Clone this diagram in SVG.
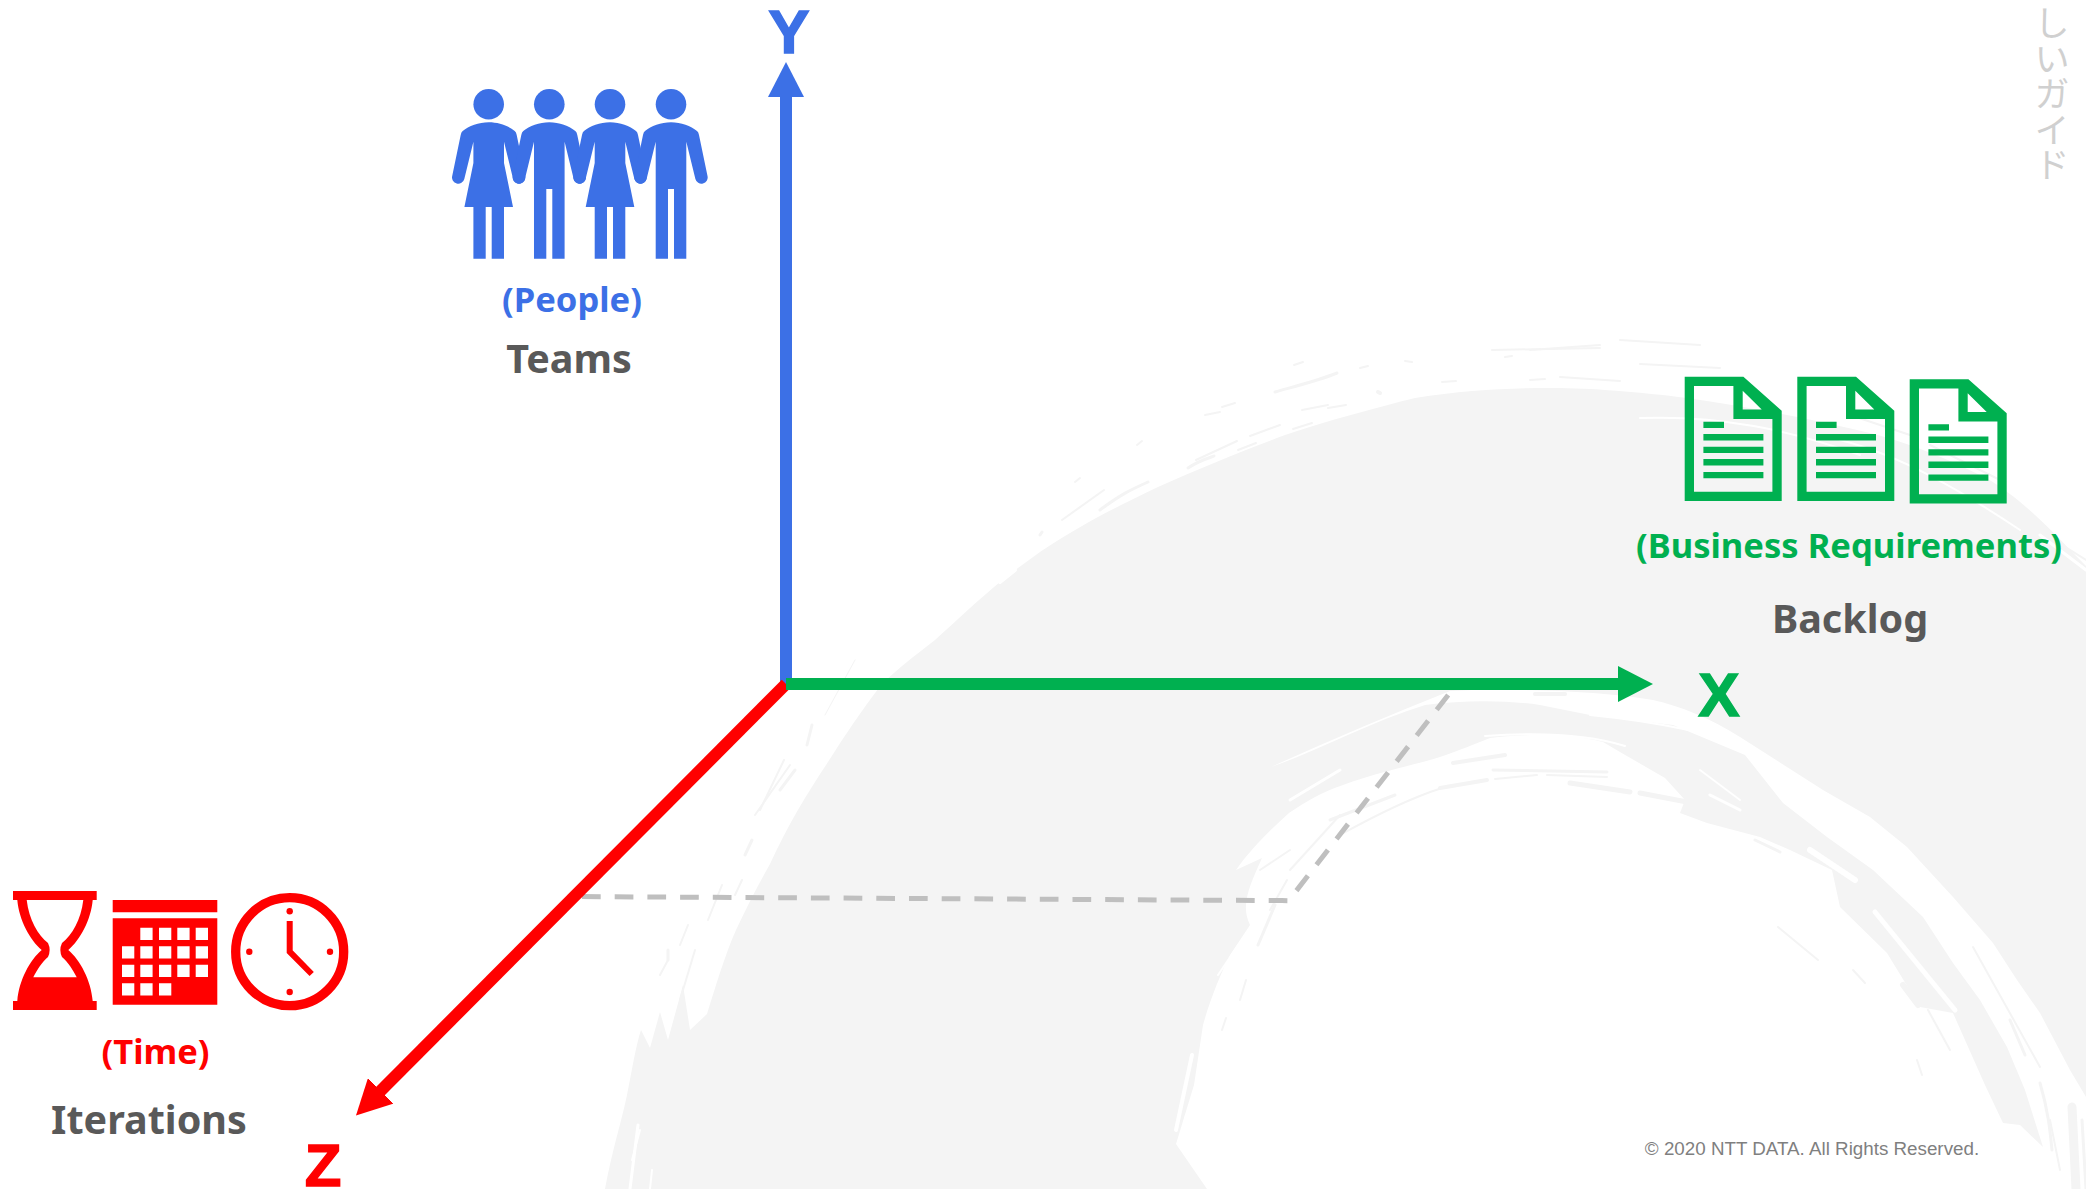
<svg xmlns="http://www.w3.org/2000/svg" xmlns:xlink="http://www.w3.org/1999/xlink" width="2086" height="1189" viewBox="0 0 2086 1189">
<style>
text{font-family:"Noto Sans","Liberation Sans",sans-serif;font-weight:700;text-anchor:middle}
.axis{font-family:"Liberation Sans",Arial,sans-serif;font-size:62px;stroke-width:1.4px}
.sub{font-size:34.6px}
.main{font-size:39.5px;fill:#595959}
.blue{fill:#3c70e6}.green{fill:#00b050}.red{fill:#ff0000}
.axl{fill:none;stroke-width:12}
.ws{fill:none;stroke:#fff;stroke-linecap:round}
.gs{fill:none;stroke:#f4f4f4;stroke-linecap:round}
.cut{fill-rule:evenodd}
</style>
<defs>
<marker id="hb" markerUnits="userSpaceOnUse" markerWidth="36" markerHeight="36" viewBox="0 0 36 36" refX="1" refY="18" orient="auto"><path d="M0 0L35 18L0 36Z" fill="#3c70e6"/></marker>
<marker id="hg" markerUnits="userSpaceOnUse" markerWidth="36" markerHeight="36" viewBox="0 0 36 36" refX="1" refY="18" orient="auto"><path d="M0 0L35 18L0 36Z" fill="#00b050"/></marker>
<marker id="hr" markerUnits="userSpaceOnUse" markerWidth="36" markerHeight="36" viewBox="0 0 36 36" refX="1" refY="18" orient="auto"><path d="M0 0L35 18L0 36Z" fill="#ff0000"/></marker>
<path id="man" d="M0 122.3C10 122.3 20 126 26 131Q27.5 132 28 135L36.5 176A6.2 6.2 0 0 1 24.4 179L15.3 141.7V258.7H3V189H-3V258.7H-15.3V141.7L-24.4 179A6.2 6.2 0 0 1-36.5 176L-28 135Q-27.5 132-26 131C-20 126-10 122.3 0 122.3Z"/>
<path id="woman" d="M0 122.3C10 122.3 20 126 26 131Q27.5 132 28 135L36.5 176A6.2 6.2 0 0 1 24.4 179L15.3 141.7V163L24.3 207H15.3V258.7H3V207H-3V258.7H-15.3V207H-24.3L-15.3 163V141.7L-24.4 179A6.2 6.2 0 0 1-36.5 176L-28 135Q-27.5 132-26 131C-20 126-10 122.3 0 122.3Z"/>
<circle id="head" cx="0" cy="104.3" r="15.3"/>
<path id="doc" class="cut" d="M0 0H58.7L97 34V124.3H0ZM9.3 9.3V115H87.7V42.3H48.7V9.3ZM58 14V32.7H77ZM18.7 45H39.3V51.3H18.7ZM18.7 57.3H78.7V63.7H18.7ZM18.7 70H78.7V76.3H18.7ZM18.7 82.3H78.7V88.7H18.7ZM18.7 95.3H78.7V101.5H18.7Z"/>
</defs>

<g id="background">
<path fill="#f4f4f4" d="M605 1189C612 1150 622 1120 627 1095C632 1070 636 1045 641 1030L650 1048L660 1012L668 1040L683 985L690 1030L707 1014C716 985 725 955 736 930C748 905 758 885 770 864C788 825 806 795 828 762C845 735 862 710 881 685C898 668 916 655 935 640C955 622 978 600 1000 582L1018 568L1040 552C1080 525 1120 505 1158 487C1200 468 1245 450 1285 435C1330 420 1375 408 1415 398C1465 390 1510 388 1553 388C1590 388 1640 392 1687 398C1750 407 1815 420 1874 434C1915 445 1950 460 1986 478C2025 500 2060 540 2086 566V1097L2070 1070L2040 1013L2017 980L1993 943L1953 897L1907 847L1870 817L1823 790L1740 737C1710 718 1680 706 1653 700C1600 690 1500 688 1450 691C1390 715 1330 740 1271 767C1320 750 1370 722 1425 705C1465 700 1505 700 1540 705L1590 715L1673 725L1745 755L1783 803L1827 837L1873 870L1923 917L1953 963L1980 1000L2007 1047L2025 1090L2043 1147L2020 1125L2003 1123L1985 1085L1953 1013L1920 1007L1887 953L1840 907L1832 870L1790 850L1760 837L1707 823L1680 813L1685 800L1665 778L1620 752L1603 742C1580 736 1560 735 1540 735C1520 735 1505 736 1490 738C1475 744 1460 750 1440 757C1415 765 1378 772 1343 785C1322 792 1305 802 1289 813C1270 830 1250 850 1236 870L1262 858C1250 885 1240 905 1250 925L1230 955C1220 975 1210 1000 1203 1025L1194 1085L1176 1144L1207 1189Z"/>

<g class="ws" stroke-width="2">
<path d="M1176 1130L1192 1055" stroke-width="4"/><path d="M1180 1140L1186 1115"/><path d="M1210 1030L1236 980" stroke-width="3"/><path d="M1218 975L1245 935" stroke-width="2"/>
<path d="M1640 418C1720 415 1790 430 1860 455" stroke-width="2"/><path d="M1840 440C1900 455 1960 490 2020 530" stroke-width="2"/><path d="M2000 470L2086 530" stroke-width="6"/><path d="M2040 535L2086 570" stroke-width="3"/>
<path d="M1290 800L1340 770" stroke-width="3"/><path d="M1310 822L1360 790" stroke-width="2"/>
<path d="M1590 715C1660 722 1720 735 1760 752" stroke-width="2"/><path d="M1485 736C1540 732 1590 735 1625 746" stroke-width="2"/>
<path d="M1875 912L1955 1010" stroke-width="5"/><path d="M1810 850L1855 880" stroke-width="6"/>
<path d="M1000 582L1015 570" stroke-width="4"/><path d="M702 985L716 935" stroke-width="3"/><path d="M704 1015L720 940" stroke-width="2"/>
<path d="M632 1160L640 1130" stroke-width="2"/><path d="M630 1189L638 1125" stroke-width="3"/><path d="M650 1189L652 1170" stroke-width="2"/>
<path d="M1600 770L1660 780" stroke-width="4"/><path d="M1700 770L1740 800" stroke-width="2"/><path d="M1710 795L1740 810" stroke-width="3"/>
</g>

<g class="gs" stroke-width="2">
<path d="M1062 520L1104 490" stroke-width="2"/><path d="M1100 510C1120 495 1130 490 1148 482" stroke-width="3"/>
<path d="M1188 468C1200 460 1212 457 1214 456" stroke-width="3"/><path d="M1196 460L1237 441" stroke-width="2"/><path d="M1238 450L1256 443" stroke-width="2"/>
<path d="M1250 436L1280 425"/><path d="M1293 429L1312 423"/><path d="M1302 410L1328 405" stroke-width="2"/><path d="M1328 408L1346 405"/>
<path d="M1275 392C1300 385 1320 380 1337 373" stroke-width="3"/><path d="M1205 415L1220 412" stroke-width="2"/><path d="M1222 407L1235 403"/><path d="M1294 365L1303 362"/><path d="M1360 368L1368 366"/><path d="M1405 361L1412 362" stroke-width="2"/>
<path d="M1378 392L1380 393" stroke-width="4"/><path d="M1442 382L1456 381"/><path d="M1492 350L1600 348" stroke-width="2"/><path d="M1505 357L1512 356"/><path d="M1530 380L1545 379" stroke-width="2"/><path d="M1560 377L1620 381" stroke-width="2"/>
<path d="M1075 482L1080 478"/><path d="M1040 535L1042 532" stroke-width="3"/><path d="M1137 445L1142 441"/>
<path d="M1620 340L1700 345"/><path d="M1530 350L1600 345"/><path d="M1640 364L1720 368"/>
<path d="M1850 415L1910 435"/><path d="M1930 445L2000 480" stroke-width="2"/><path d="M2030 525L2086 560" stroke-width="2"/>

<path d="M1258 945L1275 905" stroke-width="3"/><path d="M1270 910L1287 880"/><path d="M1240 1000L1246 980" stroke-width="2"/>
<path d="M1290 870L1340 815" stroke-width="2"/><path d="M1340 835C1385 810 1420 795 1442 788" stroke-width="2"/>
<path d="M1330 820L1395 795" stroke-width="3"/><path d="M1453 763L1505 755" stroke-width="4"/><path d="M1440 788L1487 780" stroke-width="4"/>
<path d="M1493 770L1607 772" stroke-width="3"/><path d="M1495 779L1537 775" stroke-width="2"/><path d="M1547 775L1607 777" stroke-width="2"/>
<path d="M1570 783L1630 792" stroke-width="5"/><path d="M1640 793L1687 802" stroke-width="5"/>
<path d="M1535 694L1565 694" stroke-width="4"/><path d="M1665 695L1720 712" stroke-width="3"/>
<path d="M1755 840L1780 852" stroke-width="3"/><path d="M1778 927L1818 960" stroke-width="2"/><path d="M1853 970L1865 983" stroke-width="2"/><path d="M1928 1010L1950 1050" stroke-width="2"/><path d="M1917 1060L1922 1075" stroke-width="2"/>
<path d="M1903 985L1918 1005" stroke-width="6"/><path d="M1973 947L2040 1067" stroke-width="2"/><path d="M2010 1020L2025 1055" stroke-width="3"/>
<path d="M2040 1083C2048 1110 2050 1130 2052 1150" stroke-width="3"/>
<path d="M2072 1107L2076 1189" stroke-width="9"/><path d="M2050 1120L2060 1170" stroke-width="2"/><path d="M2076 1050L2086 1085" stroke-width="3"/><path d="M2082 1120L2086 1189" stroke-width="3"/>

<path d="M855 660L825 715" stroke-width="1"/><path d="M812 725L807 745" stroke-width="3"/><path d="M784 760L760 810" stroke-width="2"/><path d="M790 765L755 815" stroke-width="2"/><path d="M795 770L780 790" stroke-width="3"/>
<path d="M752 840L745 855" stroke-width="3"/><path d="M742 880L735 895" stroke-width="2"/><path d="M722 885L708 920" stroke-width="2"/><path d="M688 925L680 945" stroke-width="2"/><path d="M668 950L668 960" stroke-width="3"/><path d="M695 950L680 1000" stroke-width="2"/><path d="M668 960L660 975" stroke-width="2"/>
<path d="M1260 870L1290 850" stroke-width="2"/>
<path d="M1222 1030L1226 1018" stroke-width="2"/>
</g>
</g>

<g id="connectors">
<path d="M582 896.6L1282 900.6L1288.6 900.7L1452 690" fill="none" stroke="#bfbfbf" stroke-width="5" stroke-dasharray="18.7 14"/>
<path class="axl" d="M786 684V96" stroke="#3c70e6" marker-end="url(#hb)"/>
<path class="axl" d="M786 684L380 1091.5" stroke="#ff0000" marker-end="url(#hr)"/>
<path class="axl" d="M786 684H1619" stroke="#00b050" marker-end="url(#hg)"/>
</g>

<g id="axis-y"><text class="axis blue" stroke="#3c70e6" x="789" y="53">Y</text></g>
<g id="axis-x"><text class="axis green" stroke="#00b050" x="1719" y="716">X</text></g>
<g id="axis-z"><text class="axis red" stroke="#ff0000" x="323" y="1186" style="font-size:60px">Z</text></g>

<g id="teams" class="blue">
<use xlink:href="#woman" x="488.7"/><use xlink:href="#head" x="488.7"/>
<use xlink:href="#man" x="549.3"/><use xlink:href="#head" x="549.3"/>
<use xlink:href="#woman" x="610"/><use xlink:href="#head" x="610"/>
<use xlink:href="#man" x="671"/><use xlink:href="#head" x="671"/>
<text class="sub blue" x="572" y="312">(People)</text>
<text class="main" x="569" y="373">Teams</text>
</g>

<g id="backlog" class="green">
<use xlink:href="#doc" x="1684.7" y="376.7"/>
<use xlink:href="#doc" x="1797.3" y="376.7"/>
<use xlink:href="#doc" x="1909.7" y="379.3"/>
<text class="sub green" x="1849" y="558">(Business Requirements)</text>
<text class="main" x="1850" y="633">Backlog</text>
</g>

<g id="iterations" class="red">
<path class="cut" d="M13 891H96.7V900H92.7C91 920 80 940 68.3 950C80 960 91 980 92.7 1001H96.7V1010H13V1001H17.3C19 980 30 960 41.7 950C30 940 19 920 17.3 900H13ZM26.7 900C29 920 38 935 48 943Q51.3 950 48 957C42 962 37 970 33.3 977.3H76.7C73 970 68 962 62 957Q58.7 950 62 943C72 935 81 920 83.3 900Z"/>
<path class="cut" d="M112.7 900H217.3V912.3H112.7ZM112.7 918.3H217.3V1004.7H112.7ZM140.3 927.7v12.3h12.3v-12.3ZM159 927.7v12.3h12.3v-12.3ZM177.3 927.7v12.3h12.3v-12.3ZM195.7 927.7v12.3h12.3v-12.3ZM122 946.3v12.3h12.3v-12.3ZM140.3 946.3v12.3h12.3v-12.3ZM159 946.3v12.3h12.3v-12.3ZM177.3 946.3v12.3h12.3v-12.3ZM195.7 946.3v12.3h12.3v-12.3ZM122 964.7v12.3h12.3v-12.3ZM140.3 964.7v12.3h12.3v-12.3ZM159 964.7v12.3h12.3v-12.3ZM177.3 964.7v12.3h12.3v-12.3ZM195.7 964.7v12.3h12.3v-12.3ZM122 983.3v12.3h12.3v-12.3ZM140.3 983.3v12.3h12.3v-12.3ZM159 983.3v12.3h12.3v-12.3Z"/>
<circle cx="289.7" cy="951.7" r="54" fill="none" stroke="#ff0000" stroke-width="9.3"/>
<path d="M289.7 921V951.7L311.7 974" fill="none" stroke="#ff0000" stroke-width="6"/>
<circle cx="289.7" cy="911.3" r="3.2"/><circle cx="289.7" cy="992" r="3.2"/><circle cx="249.3" cy="951.7" r="3.2"/><circle cx="330" cy="951.7" r="3.2"/>
<text class="sub red" x="155.5" y="1064">(Time)</text>
<text class="main" x="149" y="1134">Iterations</text>
</g>

<g id="copyright"><text x="1812" y="1155" style="font-family:'Liberation Sans',Arial,sans-serif;font-weight:400;font-size:18.8px" fill="#7f7f7f">© 2020 NTT DATA. All Rights Reserved.</text></g>
<g id="side-title"><text x="2052" y="5" style="font-family:'Noto Sans CJK JP',sans-serif;font-weight:400;font-size:35.5px;writing-mode:vertical-rl;text-anchor:start" fill="#d0d0d0">しいガイド</text></g>
</svg>
